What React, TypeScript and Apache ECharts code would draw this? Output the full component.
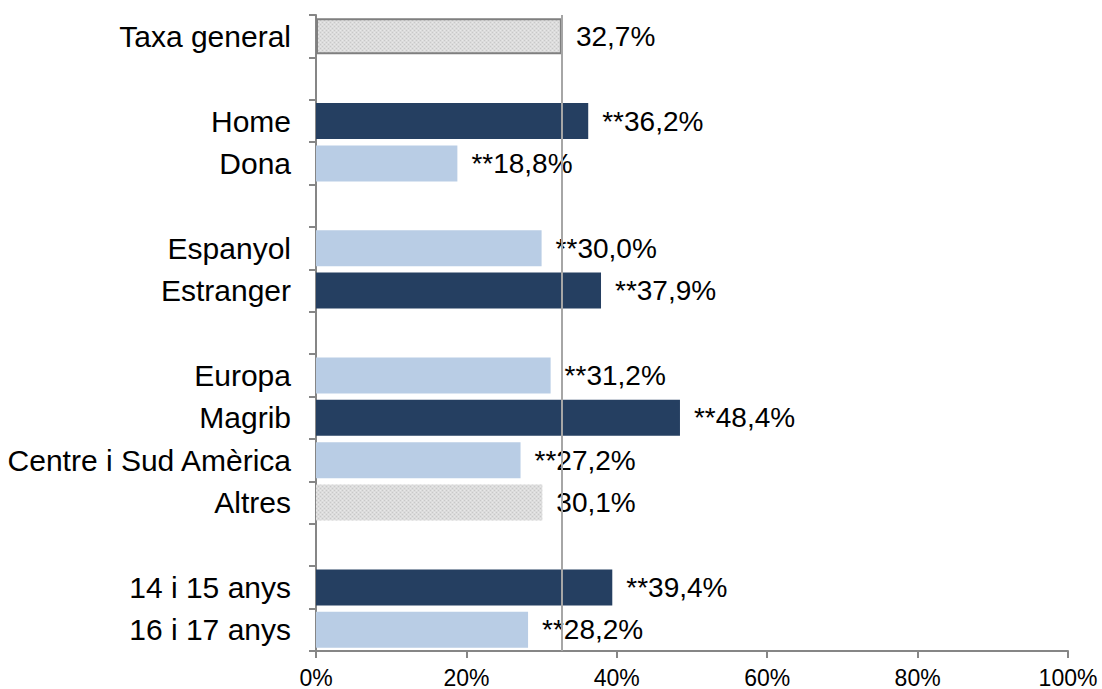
import React, { useEffect, useRef } from "react";
import * as echarts from "echarts";

const categories = [
  "Taxa general", "", "Home", "Dona", "", "Espanyol", "Estranger", "",
  "Europa", "Magrib", "Centre i Sud Amèrica", "Altres", "", "14 i 15 anys", "16 i 17 anys",
];
const values: (number | null)[] = [
  32.7, null, 36.2, 18.8, null, 30.0, 37.9, null, 31.2, 48.4, 27.2, 30.1, null, 39.4, 28.2,
];
const prefixes = ["", "", "**", "**", "", "**", "**", "", "**", "**", "**", "", "", "**", "**"];
// d = dark, l = light, g = gray (pattern)
const colorGroups = ["g", "", "d", "l", "", "l", "d", "", "l", "d", "l", "g", "", "d", "l"];
const referenceRate = 32.7;
const xTicks = [0, 20, 40, 60, 80, 100];

const FONT = "'Liberation Sans', Arial, sans-serif";

function makePattern(): any {
  const c = document.createElement("canvas");
  c.width = 4;
  c.height = 4;
  const ctx = c.getContext("2d");
  if (!ctx) return "#D9D9D9";
  ctx.fillStyle = "#DCDCDC";
  ctx.fillRect(0, 0, 4, 4);
  ctx.fillStyle = "#C8C8C8";
  ctx.fillRect(0, 0, 1, 1);
  ctx.fillRect(2, 2, 1, 1);
  ctx.fillStyle = "#E8E8E8";
  ctx.fillRect(2, 0, 1, 1);
  ctx.fillRect(0, 2, 1, 1);
  return { image: c, repeat: "repeat" };
}

export default function App() {
  const ref = useRef<HTMLDivElement>(null);
  useEffect(() => {
    document.body.style.margin = "0";
    if (!ref.current) return;
    const chart = echarts.init(ref.current, null, { renderer: "svg" });
    const pattern = makePattern();
    const data = values.map((v, i) => {
      const g = colorGroups[i];
      if (v === null) return { value: null };
      const itemStyle: any = {};
      if (g === "d") itemStyle.color = "#253F61";
      else if (g === "l") itemStyle.color = "#B9CDE5";
      else {
        itemStyle.color = pattern;
        if (i === 0) {
          itemStyle.borderColor = "#7F7F7F";
          itemStyle.borderWidth = 2;
        }
      }
      return { value: v, itemStyle };
    });
    chart.setOption({
      animation: false,
      grid: { left: 316, right: 34, top: 15, bottom: 37, containLabel: false },
      xAxis: {
        type: "value",
        min: 0,
        max: 100,
        interval: 20,
        splitLine: { show: false },
        axisLine: { show: true, lineStyle: { color: "#868686", width: 2 } },
        axisTick: { show: true, length: 7, lineStyle: { color: "#868686", width: 2 } },
        axisLabel: {
          formatter: (v: number) => (xTicks.includes(v) ? v + "%" : ""),
          fontSize: 23,
          color: "#000",
          fontFamily: FONT,
          margin: 15,
        },
      },
      yAxis: {
        type: "category",
        inverse: true,
        data: categories,
        axisLine: { show: true, lineStyle: { color: "#868686", width: 2 } },
        axisTick: { show: true, length: 7, alignWithLabel: false, lineStyle: { color: "#868686", width: 2 } },
        axisLabel: { fontSize: 30, color: "#000", fontFamily: FONT, margin: 25, interval: 0 },
      },
      series: [
        {
          type: "bar",
          data,
          barCategoryGap: "15%",
          label: {
            show: true,
            position: "right",
            distance: 14,
            fontSize: 28,
            color: "#000",
            fontFamily: FONT,
            formatter: (p: any) =>
              p.value == null ? "" : prefixes[p.dataIndex] + Number(p.value).toFixed(1).replace(".", ",") + "%",
          },
          markLine: {
            silent: true,
            symbol: "none",
            label: { show: false },
            lineStyle: { color: "#A6A6A6", width: 2, type: "solid" },
            data: [{ xAxis: referenceRate }],
          },
        },
      ],
    });
    return () => chart.dispose();
  }, []);
  return <div ref={ref} style={{ width: 1102, height: 689 }} />;
}
